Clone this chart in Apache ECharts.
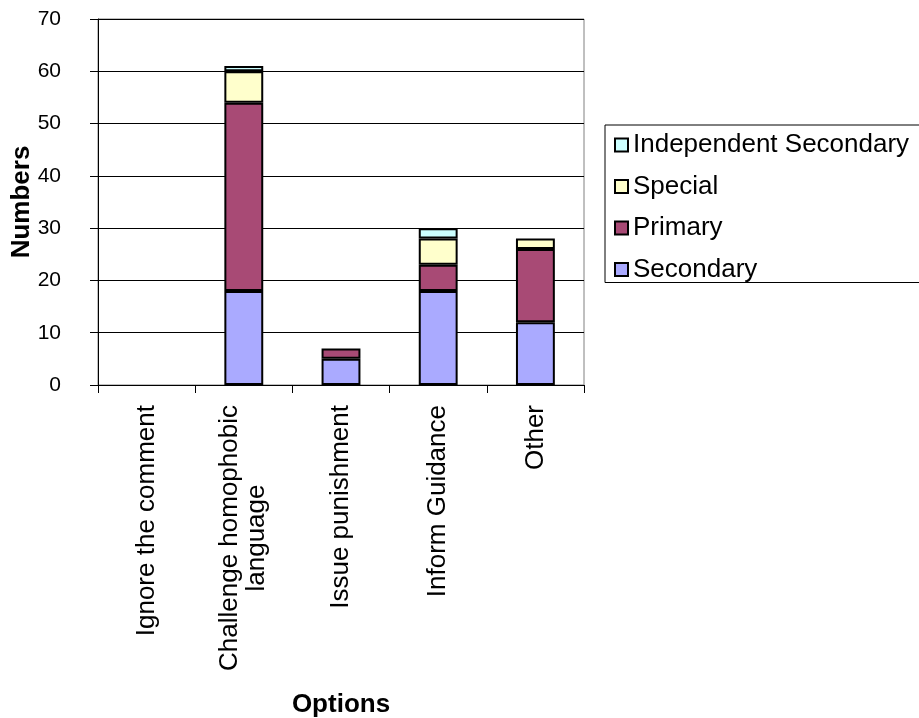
<!DOCTYPE html>
<html>
<head>
<meta charset="utf-8">
<script src="https://cdn.jsdelivr.net/npm/echarts@6/dist/echarts.min.js"></script>
<style>html,body{margin:0;padding:0;background:#fff;}#c{width:919px;height:718px;}</style>
</head>
<body>
<div id="c"></div>
<script>
const categories = ['Ignore the comment', 'Challenge homophobic\nlanguage', 'Issue punishment', 'Inform Guidance', 'Other'];
const secondary = [0, 18, 5, 18, 12];
const primary = [0, 36, 2, 5, 14];
const special = [0, 6, 0, 5, 2];
const independentSecondary = [0, 1, 0, 2, 0];
const yTicks = [0, 10, 20, 30, 40, 50, 60, 70];

const FONT = '"Liberation Sans", Arial, sans-serif';
const chart = echarts.init(document.getElementById('c'), null, {renderer: 'canvas'});

function mk(name, data, color) {
  return {
    name: name, type: 'bar', stack: 's',
    data: data.map(function (v) { return v === 0 ? null : v; }),
    barWidth: '40%',
    itemStyle: {color: color, borderColor: '#000', borderWidth: 2},
    emphasis: {disabled: true}
  };
}

chart.setOption({
  animation: false,
  textStyle: {fontFamily: FONT},
  grid: {left: 98, top: 19, width: 486, height: 366, containLabel: false, outerBoundsMode: 'none',
    show: true, borderColor: '#808080', borderWidth: 1, backgroundColor: '#fff'},
  legend: {
    left: 605, top: 125, orient: 'vertical', itemGap: 15.5, icon: 'rect',
    data: ['Independent Secondary', 'Special', 'Primary', 'Secondary'],
    itemWidth: 13, itemHeight: 13, itemTextGap: 11,
    borderColor: '#000', borderWidth: 1, padding: [7, 30, 0, 9],
    textStyle: {fontSize: 26, lineHeight: 26, color: '#000', fontFamily: FONT},
    itemStyle: {borderColor: '#000', borderWidth: 2}
  },
  xAxis: {
    type: 'category', data: categories,
    name: 'Options', nameLocation: 'middle', nameGap: 307, nameMoveOverlap: false,
    nameTextStyle: {fontSize: 26, fontWeight: 'bold', color: '#000', fontFamily: FONT},
    axisLine: {lineStyle: {color: '#000', width: 1}},
    axisTick: {show: true, length: 8, lineStyle: {color: '#000'}},
    axisLabel: {
      rotate: 90, margin: 20, color: '#000', fontSize: 26, fontFamily: FONT, interval: 0,
      formatter: function (v) {
        if (v.indexOf('\n') >= 0) {
          const p = v.split('\n');
          return '{c|' + p[0] + '}\n{c|' + p[1] + '}';
        }
        return v;
      },
      rich: {c: {width: 266, align: 'center', fontSize: 26, fontFamily: FONT, color: '#000', lineHeight: 27}}
    },
    splitLine: {show: false}
  },
  yAxis: {
    type: 'value', min: 0, max: 70, interval: 10,
    name: 'Numbers', nameLocation: 'middle', nameGap: 63, nameRotate: 90, nameMoveOverlap: false,
    nameTextStyle: {fontSize: 26, fontWeight: 'bold', color: '#000', fontFamily: FONT},
    axisLine: {show: true, lineStyle: {color: '#000', width: 1}},
    axisTick: {show: true, length: 8, lineStyle: {color: '#000'}},
    axisLabel: {color: '#000', fontSize: 21, margin: 37, fontFamily: FONT,
      formatter: function (v) { return yTicks.indexOf(v) >= 0 ? String(v) : ''; }},
    splitLine: {show: true, lineStyle: {color: '#000', width: 1}}
  },
  series: [
    mk('Secondary', secondary, '#AAAAFF'),
    mk('Primary', primary, '#A84A75'),
    mk('Special', special, '#FFFFCC'),
    mk('Independent Secondary', independentSecondary, '#CCFFFF')
  ]
});
</script>
</body>
</html>
